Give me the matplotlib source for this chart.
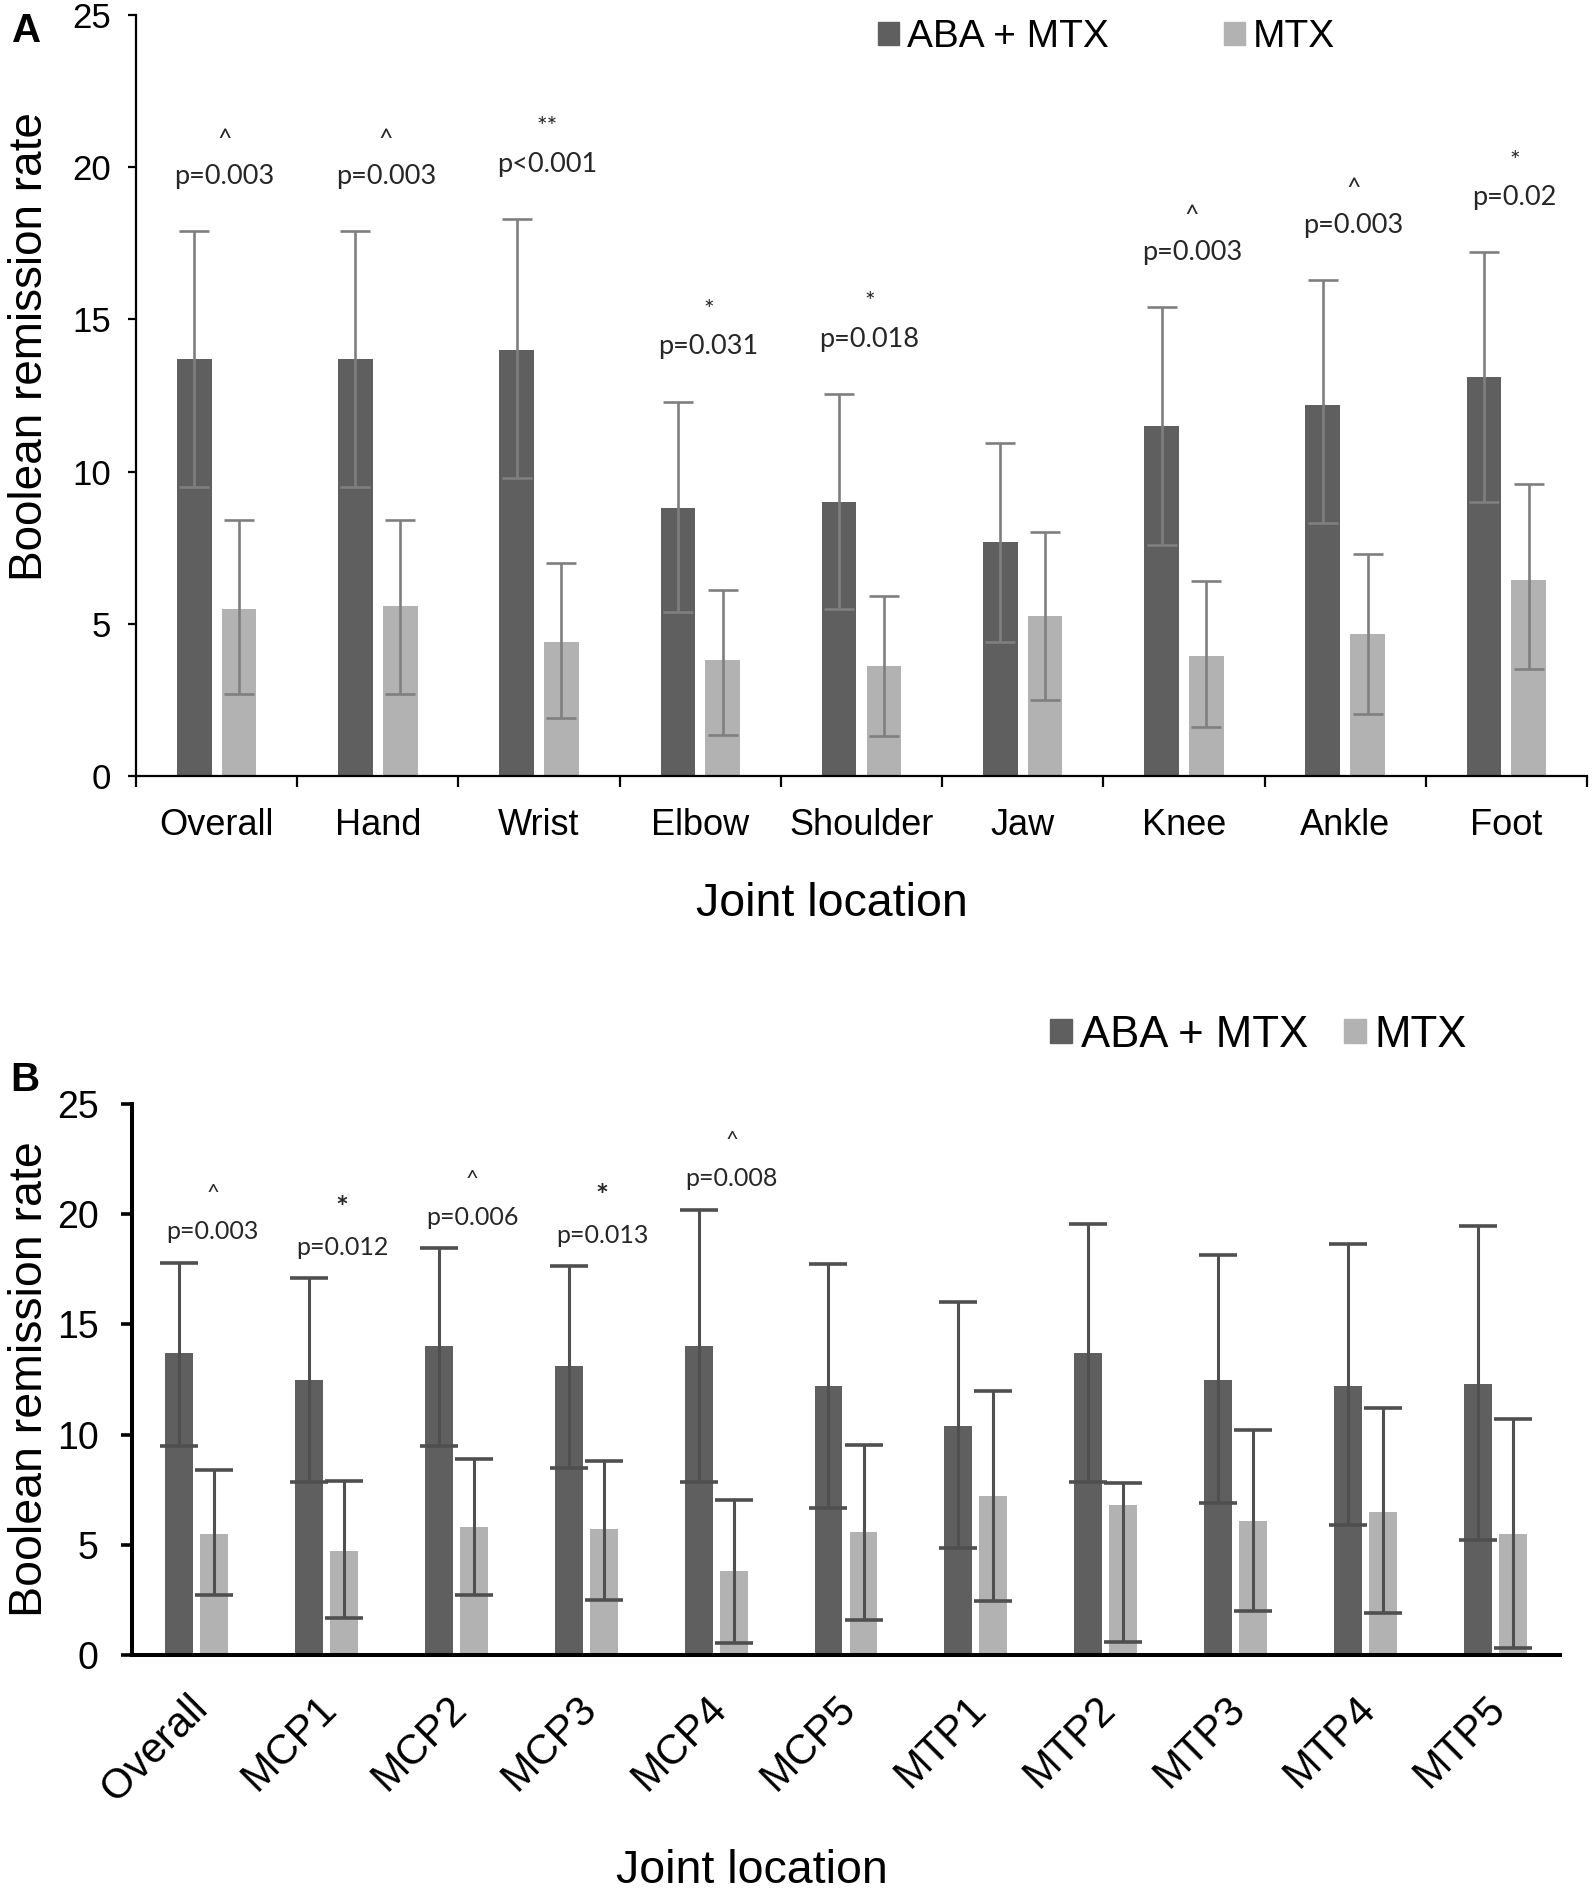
import matplotlib
matplotlib.use("Agg")
import matplotlib.pyplot as plt
import matplotlib.transforms as mtransforms
from matplotlib.patches import Patch
import numpy as np

# ---------------- data ----------------
cats_A = ["Overall", "Hand", "Wrist", "Elbow", "Shoulder", "Jaw", "Knee", "Ankle", "Foot"]
aba_A = [13.7, 13.7, 14.0, 8.8, 9.0, 7.7, 11.5, 12.2, 13.1]
aba_A_lo = [9.5, 9.5, 9.8, 5.4, 5.5, 4.4, 7.6, 8.3, 9.0]
aba_A_hi = [17.9, 17.9, 18.3, 12.3, 12.55, 10.95, 15.4, 16.3, 17.2]
mtx_A = [5.5, 5.6, 4.4, 3.8, 3.6, 5.25, 3.95, 4.65, 6.45]
mtx_A_lo = [2.7, 2.7, 1.9, 1.35, 1.3, 2.5, 1.6, 2.05, 3.5]
mtx_A_hi = [8.4, 8.4, 7.0, 6.1, 5.9, 8.0, 6.4, 7.3, 9.6]
sig_A = ["^", "^", "**", "*", "*", "", "^", "^", "*"]
p_A = ["p=0.003", "p=0.003", "p<0.001", "p=0.031", "p=0.018", "", "p=0.003", "p=0.003", "p=0.02"]

cats_B = ["Overall", "MCP1", "MCP2", "MCP3", "MCP4", "MCP5",
          "MTP1", "MTP2", "MTP3", "MTP4", "MTP5"]
aba_B = [13.7, 12.5, 14.0, 13.1, 14.0, 12.2, 10.4, 13.7, 12.5, 12.2, 12.3]
aba_B_lo = [9.5, 7.85, 9.5, 8.5, 7.85, 6.65, 4.85, 7.85, 6.9, 5.9, 5.2]
aba_B_hi = [17.8, 17.1, 18.45, 17.65, 20.2, 17.75, 16.0, 19.55, 18.15, 18.65, 19.45]
mtx_B = [5.5, 4.7, 5.8, 5.7, 3.8, 5.6, 7.2, 6.8, 6.1, 6.5, 5.5]
mtx_B_lo = [2.7, 1.7, 2.7, 2.5, 0.55, 1.6, 2.45, 0.6, 2.0, 1.9, 0.3]
mtx_B_hi = [8.4, 7.9, 8.9, 8.8, 7.05, 9.55, 12.0, 7.8, 10.2, 11.2, 10.7]
sig_B = ["^", "*", "^", "*", "^", "", "", "", "", "", ""]
p_B = ["p=0.003", "p=0.012", "p=0.006", "p=0.013", "p=0.008", "", "", "", "", "", ""]

series_names = ["ABA + MTX", "MTX"]
y_ticks = [0, 5, 10, 15, 20, 25]

# ---------------- style ----------------
DARK = "#5f5f5f"
LIGHT = "#b2b2b2"
SANS = ["Liberation Sans", "DejaVu Sans"]
ANN = ["Lato", "DejaVu Sans"]
plt.rcParams["font.family"] = SANS

W, H = 1594, 1892
fig = plt.figure(figsize=(W / 100, H / 100), dpi=100)


def fx(px):
    return px / W


def fy(py):
    return 1 - py / H


def yerr(mean, lo, hi):
    m = np.array(mean)
    return np.vstack([m - np.array(lo), np.array(hi) - m])


# ---------------- Panel A ----------------
axA = fig.add_axes([fx(136), fy(776), fx(1587) - fx(136), fy(15) - fy(776)])
xA = np.arange(len(cats_A))
bw = 0.215
off = 0.139
axA.bar(xA - off, aba_A, bw, color=DARK, zorder=2)
axA.bar(xA + off, mtx_A, bw, color=LIGHT, zorder=2)
ekA = dict(fmt="none", ecolor="#7f7f7f", elinewidth=1.9, capsize=11, capthick=1.9, zorder=3)
axA.errorbar(xA - off, aba_A, yerr=yerr(aba_A, aba_A_lo, aba_A_hi), **ekA)
axA.errorbar(xA + off, mtx_A, yerr=yerr(mtx_A, mtx_A_lo, mtx_A_hi), **ekA)
axA.set_xlim(-0.5, len(cats_A) - 0.5)
axA.set_ylim(0, 25)
axA.set_yticks(y_ticks)
axA.tick_params(axis="y", labelsize=25, length=6, width=1.6, pad=12, direction="out")
axA.set_xticks(np.arange(len(cats_A) + 1) - 0.5)
axA.set_xticklabels([])
axA.set_xticks(xA, minor=True)
axA.set_xticklabels(cats_A, minor=True, fontsize=26)
axA.tick_params(axis="x", which="major", length=8, width=1.6, direction="out")
axA.tick_params(axis="x", which="minor", length=0, pad=23)
for s in ["top", "right"]:
    axA.spines[s].set_visible(False)
for s in ["left", "bottom"]:
    axA.spines[s].set_linewidth(1.6)
for i in range(len(cats_A)):
    if p_A[i]:
        yp = aba_A_hi[i] + 1.8
        axA.text(i + 0.05, yp, p_A[i], ha="center", va="center", fontsize=19.5,
                 family=ANN, color="#262626", zorder=4)
        axA.text(i + 0.05, yp + 1.2, sig_A[i], ha="center", va="center",
                 fontsize=18, family=ANN, color="#262626", zorder=4)

axA.legend(handles=[Patch(color=DARK), Patch(color=LIGHT)], labels=series_names,
           ncol=2, loc="center left", bbox_to_anchor=(fx(878), fy(37)),
           bbox_transform=fig.transFigure, frameon=False, fontsize=28,
           handlelength=0.54, handleheight=0.54, handletextpad=0.2,
           columnspacing=2.96, borderpad=0, borderaxespad=0)

fig.text(fx(30), fy(347), "Boolean remission rate", rotation=90, ha="center",
         va="center", fontsize=33)
fig.text(fx(832), fy(916), "Joint location", ha="center", va="baseline", fontsize=33.5)
fig.text(fx(12), fy(42), "A", ha="left", va="baseline", fontsize=29, fontweight="bold")

# ---------------- Panel B ----------------
axB = fig.add_axes([fx(132), fy(1655), fx(1560) - fx(132), fy(1104) - fy(1655)])
xB = np.arange(len(cats_B))
bwB = 0.215
offB = 0.135
axB.bar(xB - offB, aba_B, bwB, color=DARK, zorder=2)
axB.bar(xB + offB, mtx_B, bwB, color=LIGHT, zorder=2)
ekB = dict(fmt="none", ecolor="#4f4f4f", elinewidth=2.2, capsize=14, capthick=2.6, zorder=3)
axB.errorbar(xB - offB, aba_B, yerr=yerr(aba_B, aba_B_lo, aba_B_hi), **ekB)
axB.errorbar(xB + offB, mtx_B, yerr=yerr(mtx_B, mtx_B_lo, mtx_B_hi), **ekB)
axB.set_xlim(-0.5, len(cats_B) - 0.5)
axB.set_ylim(0, 25)
axB.set_yticks(y_ticks)
axB.tick_params(axis="y", labelsize=27, length=8, width=2.6, pad=16, direction="out")
axB.set_xticks(xB)
axB.set_xticklabels(cats_B, fontsize=30, rotation=45, ha="right", va="top",
                    rotation_mode="anchor")
axB.tick_params(axis="x", length=0, pad=24)
shift = mtransforms.ScaledTranslation(-10 / 100, 0, fig.dpi_scale_trans)
for lab in axB.get_xticklabels():
    lab.set_transform(lab.get_transform() + shift)
for s in ["top", "right"]:
    axB.spines[s].set_visible(False)
for s in ["left", "bottom"]:
    axB.spines[s].set_linewidth(2.9)
for i in range(len(cats_B)):
    if p_B[i]:
        yp = aba_B_hi[i] + 1.4
        axB.text(i + 0.12, yp, p_B[i], ha="center", va="center", fontsize=18,
                 family=ANN, color="#262626", zorder=4)
        if sig_B[i] == "*":
            axB.text(i + 0.12, yp + 1.75, "*", ha="center", va="center",
                     fontsize=22, fontweight="bold", family=ANN, color="#262626", zorder=4)
        else:
            axB.text(i + 0.12, yp + 1.75, sig_B[i], ha="center", va="center",
                     fontsize=16, family=ANN, color="#262626", zorder=4)

axB.legend(handles=[Patch(color=DARK), Patch(color=LIGHT)], labels=series_names,
           ncol=2, loc="center left", bbox_to_anchor=(fx(1050), fy(1035)),
           bbox_transform=fig.transFigure, frameon=False, fontsize=31.5,
           handlelength=0.5, handleheight=0.5, handletextpad=0.2,
           columnspacing=0.82, borderpad=0, borderaxespad=0)

fig.text(fx(30), fy(1379), "Boolean remission rate", rotation=90, ha="center",
         va="center", fontsize=33.5)
fig.text(fx(752), fy(1883), "Joint location", ha="center", va="baseline", fontsize=33.5)
fig.text(fx(10), fy(1091), "B", ha="left", va="baseline", fontsize=29, fontweight="bold")

fig.savefig("out.png", dpi=100, facecolor="white")
